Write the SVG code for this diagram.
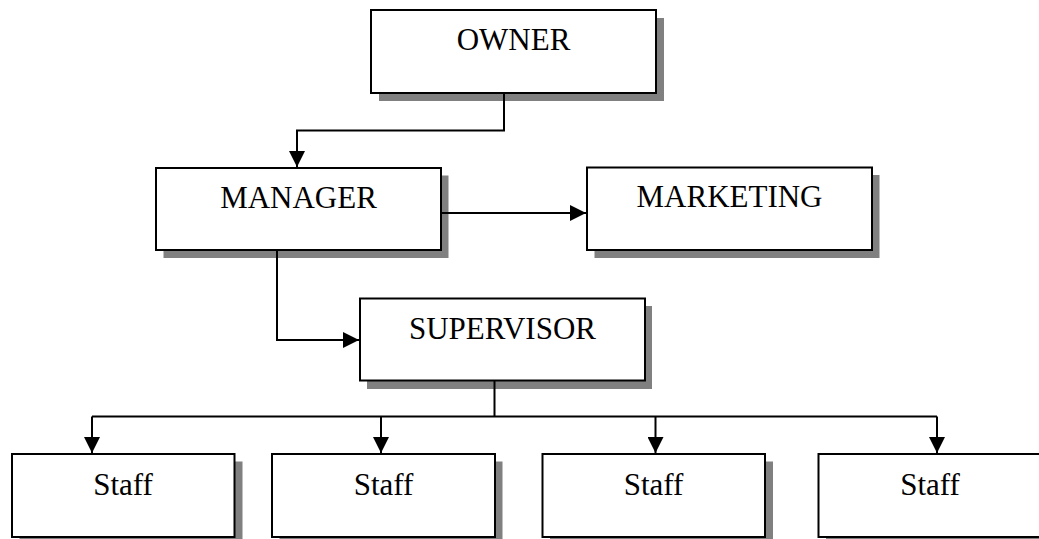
<svg xmlns="http://www.w3.org/2000/svg" width="1039" height="539" viewBox="0 0 1039 539">
  <style>
    .box { fill: #ffffff; stroke: #000000; stroke-width: 2; }
    .shadow { fill: #808080; stroke: none; }
    .label { font-family: 'Liberation Serif', 'Times New Roman', 'DejaVu Serif', serif; font-size: 31px; fill: #000000; text-anchor: middle; }
    .conn { fill: none; stroke: #000000; stroke-width: 2; }
  </style>
  <defs>
    <marker id="arrow" markerUnits="userSpaceOnUse" markerWidth="16" markerHeight="16" viewBox="0 0 16 16" refX="16" refY="8" orient="auto">
      <path d="M0,0 L16,8 L0,16 Z" fill="#000000"/>
    </marker>
  </defs>

  <g id="owner">
    <rect class="shadow" x="379" y="18" width="285" height="83"/>
    <rect class="box" x="371" y="10" width="285" height="83"/>
    <text class="label" font-family="Liberation Serif, serif" x="513.5" y="50">OWNER</text>
  </g>

  <g id="manager">
    <rect class="shadow" x="163.5" y="175.5" width="285" height="82.5"/>
    <rect class="box" x="156" y="168" width="285" height="82"/>
    <text class="label" font-family="Liberation Serif, serif" x="298.5" y="208">MANAGER</text>
  </g>

  <g id="marketing">
    <rect class="shadow" x="594.5" y="175" width="285" height="83"/>
    <rect class="box" x="587" y="167.5" width="285" height="82.5"/>
    <text class="label" font-family="Liberation Serif, serif" x="729.5" y="207">MARKETING</text>
  </g>

  <g id="supervisor">
    <rect class="shadow" x="367" y="306" width="285" height="83"/>
    <rect class="box" x="360" y="298.5" width="285" height="82"/>
    <text class="label" font-family="Liberation Serif, serif" x="502.5" y="338.5">SUPERVISOR</text>
  </g>

  <g id="staff1">
    <rect class="shadow" x="19.5" y="461.5" width="223" height="84"/>
    <rect class="box" x="12" y="454" width="222.5" height="83"/>
    <text class="label" font-family="Liberation Serif, serif" x="123" y="495">Staff</text>
  </g>

  <g id="staff2">
    <rect class="shadow" x="279.5" y="461.5" width="223" height="84"/>
    <rect class="box" x="272" y="454" width="223" height="83"/>
    <text class="label" font-family="Liberation Serif, serif" x="383.5" y="495">Staff</text>
  </g>

  <g id="staff3">
    <rect class="shadow" x="550" y="461.5" width="223" height="84"/>
    <rect class="box" x="542.5" y="454" width="222.5" height="83"/>
    <text class="label" font-family="Liberation Serif, serif" x="653.5" y="495">Staff</text>
  </g>

  <g id="staff4">
    <rect class="shadow" x="826" y="461.5" width="223" height="84"/>
    <rect class="box" x="818.5" y="454" width="223" height="83"/>
    <text class="label" font-family="Liberation Serif, serif" x="930" y="495">Staff</text>
  </g>

  <g id="connectors">
    <path class="conn" d="M504,93 V130.5 H297 V167" marker-end="url(#arrow)"/>
    <path class="conn" d="M441,213 H586" marker-end="url(#arrow)"/>
    <path class="conn" d="M277,250 V340 H359" marker-end="url(#arrow)"/>
    <path class="conn" d="M494.5,381 V416.5"/>
    <path class="conn" d="M92,416.5 H937"/>
    <path class="conn" d="M92,416.5 V453" marker-end="url(#arrow)"/>
    <path class="conn" d="M381,416.5 V453" marker-end="url(#arrow)"/>
    <path class="conn" d="M655.5,416.5 V453" marker-end="url(#arrow)"/>
    <path class="conn" d="M937,416.5 V453" marker-end="url(#arrow)"/>
  </g>
</svg>
